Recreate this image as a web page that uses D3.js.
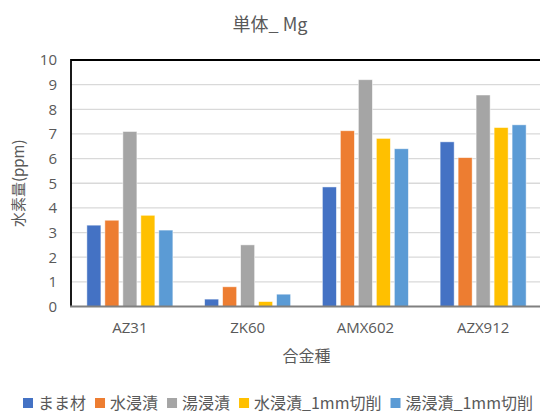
<!DOCTYPE html>
<html>
<head>
<meta charset="utf-8">
<title>単体_ Mg</title>
<script src="https://d3js.org/d3.v7.min.js"></script>
<style>
	body { margin: 0; background: #fff; }
	svg text { font-family: "Noto Sans CJK JP", "Noto Sans", sans-serif; fill: #595959; }
</style>
</head>
<body>
<div id="chart"></div>
<script>

	// data
	var alloys = ["AZ31", "ZK60", "AMX602", "AZX912"];
	var seriesNames = ["まま材", "水浸漬", "湯浸漬", "水浸漬_1mm切削", "湯浸漬_1mm切削"];
	var asIs = [3.3, 0.3, 4.85, 6.68];
	var waterSoak = [3.5, 0.8, 7.13, 6.04];
	var hotSoak = [7.1, 2.5, 9.2, 8.58];
	var waterCut = [3.7, 0.2, 6.82, 7.26];
	var hotCut = [3.1, 0.5, 6.4, 7.37];
	var yTicks = [0, 1, 2, 3, 4, 5, 6, 7, 8, 9, 10];
	var colors = ["#4472C4", "#ED7D31", "#A5A5A5", "#FFC000", "#5B9BD5"];

	var seriesVals = [asIs, waterSoak, hotSoak, waterCut, hotCut];

	var W = 540, H = 414;
	var pLeft = 71, pRight = 542, pTop = 60, pBottom = 306.5;

	var svg = d3.select("#chart").append("svg")
		.attr("width", W)
		.attr("height", H);

	var x = d3.scaleBand().domain(alloys).range([pLeft, pRight]).paddingInner(0).paddingOuter(0);
	var y = d3.scaleLinear().domain([0, 10]).range([pBottom, pTop]);

	// inner band for series
	var groupW = 86;
	var xs = d3.scaleBand().domain(d3.range(seriesNames.length))
		.range([0, groupW]).paddingInner(0.22);

	// gridlines
	svg.append("g").selectAll("line")
		.data(yTicks.filter(function(d){ return d > 0 && d < 10; }))
		.enter().append("line")
		.attr("x1", pLeft).attr("x2", pRight)
		.attr("y1", function(d){ return y(d); })
		.attr("y2", function(d){ return y(d); })
		.style("stroke", "#d9d9d9")
		.style("stroke-width", 1.3);

	// bars
	var groups = svg.append("g").selectAll("g")
		.data(alloys)
		.enter().append("g")
		.attr("transform", function(d){ return "translate(" + (x(d) + x.bandwidth() / 2 - groupW / 2) + ",0)"; });

	groups.selectAll("rect")
		.data(function(a, i){ return seriesVals.map(function(s, k){ return {k: k, v: s[i]}; }); })
		.enter().append("rect")
		.attr("x", function(d){ return xs(d.k); })
		.attr("width", xs.bandwidth())
		.attr("y", function(d){ return y(d.v); })
		.attr("height", function(d){ return pBottom - y(d.v); })
		.style("fill", function(d){ return colors[d.k]; })
		.style("stroke", "#fff")
		.style("stroke-opacity", 0.6)
		.style("stroke-width", 0.8);

	// frame
	svg.append("line")
		.attr("x1", pLeft).attr("x2", W)
		.attr("y1", pTop).attr("y2", pTop)
		.style("stroke", "#000").style("stroke-width", 2);
	svg.append("line")
		.attr("x1", pLeft).attr("x2", pLeft)
		.attr("y1", pTop - 1).attr("y2", pBottom)
		.style("stroke", "#000").style("stroke-width", 1.8);
	svg.append("line")
		.attr("x1", pLeft - 1).attr("x2", W)
		.attr("y1", pBottom).attr("y2", pBottom)
		.style("stroke", "#808080").style("stroke-width", 2);

	// y axis labels
	var yAxis = d3.axisLeft(y).tickValues(yTicks).tickSize(0).tickPadding(14);
	var yg = svg.append("g").attr("transform", "translate(" + pLeft + ",0)").call(yAxis);
	yg.select(".domain").remove();
	yg.selectAll("text").style("font-size", "15px").style("font-family", "'Open Sans', 'Noto Sans', sans-serif").style("fill", "#595959");

	// x axis labels
	var xAxis = d3.axisBottom(x).tickSize(0).tickPadding(16);
	var xg = svg.append("g").attr("transform", "translate(0," + pBottom + ")").call(xAxis);
	xg.select(".domain").remove();
	xg.selectAll("text").style("font-size", "15px").style("font-family", "'Open Sans', 'Noto Sans', sans-serif").style("fill", "#595959");

	// titles
	svg.append("text")
		.attr("x", 270).attr("y", 31)
		.attr("text-anchor", "middle")
		.style("font-size", "18px")
		.text("単体_ Mg");

	svg.append("text")
		.attr("x", (pLeft + pRight) / 2).attr("y", 362)
		.attr("text-anchor", "middle")
		.style("font-size", "16px")
		.text("合金種");

	svg.append("text")
		.attr("transform", "translate(24," + ((pTop + pBottom) / 2) + ") rotate(-90)")
		.attr("text-anchor", "middle")
		.style("font-size", "15px")
		.text("水素量(ppm)");

	// legend
	var legend = svg.append("g");
	var lx = 23;
	seriesNames.forEach(function(name, k){
		legend.append("rect")
			.attr("x", lx).attr("y", 398)
			.attr("width", 10).attr("height", 10)
			.style("fill", colors[k]);
		var t = legend.append("text")
			.attr("x", lx + 15).attr("y", 409)
			.style("font-size", "16px")
			.text(name);
		lx += 15 + t.node().getComputedTextLength() + 9;
	});

</script>
</body>
</html>
